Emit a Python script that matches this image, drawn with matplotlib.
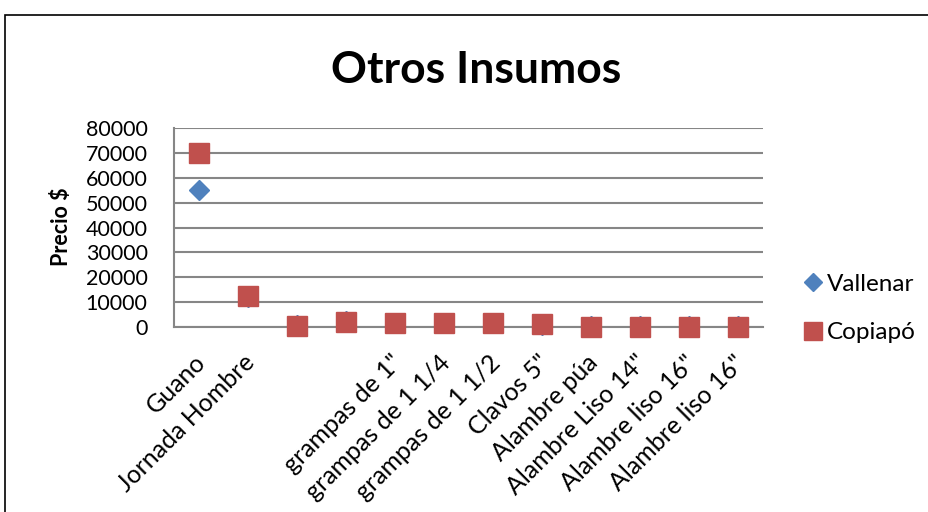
import matplotlib.pyplot as plt
import matplotlib.patches as patches
import matplotlib.transforms as mtransforms
import numpy as np

plt.rcParams['font.family'] = ['Lato', 'DejaVu Sans']

categories = ['Guano', 'Jornada Hombre', '', '', 'grampas de 1"', 'grampas de 1 1/4',
              'grampas de 1 1/2', 'Clavos 5"', 'Alambre púa', 'Alambre Liso 14"',
              'Alambre liso 16"', 'Alambre liso 16"']
vallenar = [55000, 11900, 800, 2400, 1800, 1800, 1800, 800, 300, 300, 300, 300]
copiapo = [70000, 12500, 500, 2100, 1500, 1500, 1500, 1100, 100, 100, 100, 100]
yticks = [0, 10000, 20000, 30000, 40000, 50000, 60000, 70000, 80000]

fig = plt.figure(figsize=(9.29, 5.12), dpi=100)
fig.patches.append(patches.Rectangle((5 / 929, -0.05), 1.0, 1 - 15 / 512 + 0.05,
                                     transform=fig.transFigure, fill=False,
                                     edgecolor='black', linewidth=1.2))

ax = fig.add_axes([174 / 929, 1 - 327 / 512, 589 / 929, 199 / 512])
x = np.arange(len(categories))
ax.plot(x, vallenar, linestyle='none', marker='D', markersize=10.2,
        color='#4F81BD', label='Vallenar', zorder=3, clip_on=False)
ax.plot(x, copiapo, linestyle='none', marker='s', markersize=14.4,
        color='#C0504D', label='Copiapó', zorder=4, clip_on=False)

ax.set_xlim(-0.5, len(categories) - 0.5)
ax.set_ylim(0, 80000)
ax.set_yticks(yticks)
ax.set_yticklabels([str(v) for v in yticks], fontsize=15.5)
ax.yaxis.grid(True, color='#868686', linewidth=1.5)
ax.set_axisbelow(True)
for s in ['top', 'right']:
    ax.spines[s].set_visible(False)
for s in ['left', 'bottom']:
    ax.spines[s].set_color('#868686')
    ax.spines[s].set_linewidth(1.5)
ax.tick_params(axis='y', length=0, pad=19)
ax.tick_params(axis='x', length=0, pad=17)
ax.set_xticks(x)
ax.set_xticklabels(categories, rotation=45, ha='right', rotation_mode='anchor',
                   fontsize=18)
# Excel puts the rotated labels a bit left of the category centre
shift = mtransforms.ScaledTranslation(-5 / 100, 0, fig.dpi_scale_trans)
for lbl in ax.get_xticklabels():
    lbl.set_transform(lbl.get_transform() + shift)

fig.text(62 / 929, 1 - 227 / 512, 'Precio $', rotation=90, ha='center', va='center',
         fontsize=15.5, fontweight='bold')

fig.text(476 / 929, 1 - 70 / 512, 'Otros Insumos', ha='center', va='center',
         fontsize=32, fontweight='bold')

fig.legend(loc='center left', bbox_to_anchor=(804 / 929, 1 - 308.5 / 512),
           frameon=False, fontsize=17.5, handlelength=0.7, handletextpad=0.25,
           labelspacing=1.15, borderaxespad=0, borderpad=0, markerscale=0.9)

fig.savefig('out.png', dpi=100)
